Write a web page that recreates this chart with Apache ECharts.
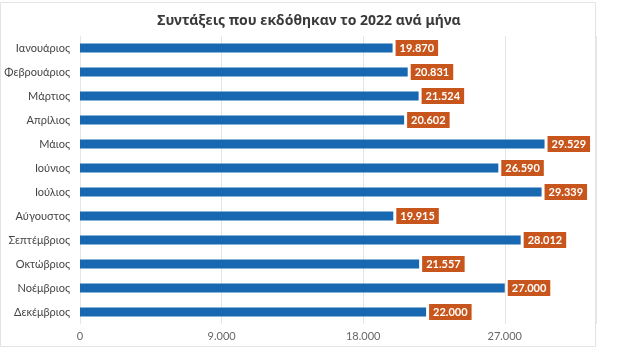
<!DOCTYPE html>
<html>
<head>
<meta charset="utf-8">
<script src="https://cdn.jsdelivr.net/npm/echarts@6/dist/echarts.min.js"></script>
<style>
  html, body { margin: 0; padding: 0; background: #fff; }
  #chart { width: 626px; height: 353px; }
</style>
</head>
<body>
<div id="chart"></div>
<script>
var months = ["Ιανουάριος", "Φεβρουάριος", "Μάρτιος", "Απρίλιος", "Μάιος", "Ιούνιος",
  "Ιούλιος", "Αύγουστος", "Σεπτέμβριος", "Οκτώβριος", "Νοέμβριος", "Δεκέμβριος"];
var contracts = [19870, 20831, 21524, 20602, 29529, 26590, 29339, 19915, 28012, 21557, 27000, 22000];
var chartTitle = "Συντάξεις που εκδόθηκαν το 2022 ανά μήνα";

function fmt(v) {
  return String(v).replace(/\B(?=(\d{3})+(?!\d))/g, ".");
}

var chart = echarts.init(document.getElementById("chart"));
chart.setOption({
  backgroundColor: "#fff",
  animation: false,
  textStyle: { fontFamily: "Lato, 'Noto Sans', sans-serif" },
  title: {
    text: chartTitle,
    left: 304,
    textAlign: "center",
    top: 9,
    textStyle: { fontSize: 14, fontWeight: "bold", color: "#3a3a3a", fontFamily: "'Noto Sans', sans-serif" }
  },
  graphic: [{
    type: "rect",
    shape: { x: 0.5, y: 2.5, width: 595, height: 344 },
    style: { fill: "none", stroke: "#e4e4e4", lineWidth: 1 },
    silent: true
  }],
  grid: { left: 80, right: 30, top: 36, bottom: 29, containLabel: false },
  xAxis: {
    type: "value",
    min: 0,
    max: 32800,
    interval: 9000,
    axisLine: { show: false },
    axisTick: { show: false },
    splitLine: { lineStyle: { color: "#e6e6e6" } },
    axisLabel: {
      showMaxLabel: false,
      color: "#666",
      fontSize: 11,
      margin: 7,
      formatter: function (v) { return fmt(v); }
    }
  },
  yAxis: {
    type: "category",
    data: months,
    inverse: true,
    axisLine: { show: true, lineStyle: { color: "#e6e6e6" } },
    axisTick: { show: false },
    axisLabel: { color: "#444", fontSize: 11, margin: 10 }
  },
  series: [{
    type: "bar",
    data: contracts,
    barWidth: 9,
    itemStyle: { color: "#1767b1" },
    label: {
      show: true,
      position: "right",
      distance: 3,
      color: "#fff",
      fontWeight: "bold",
      fontSize: 11,
      backgroundColor: "#c8561c",
      padding: [3, 4, 2, 4],
      formatter: function (p) { return fmt(p.value); }
    }
  }]
});
</script>
</body>
</html>
